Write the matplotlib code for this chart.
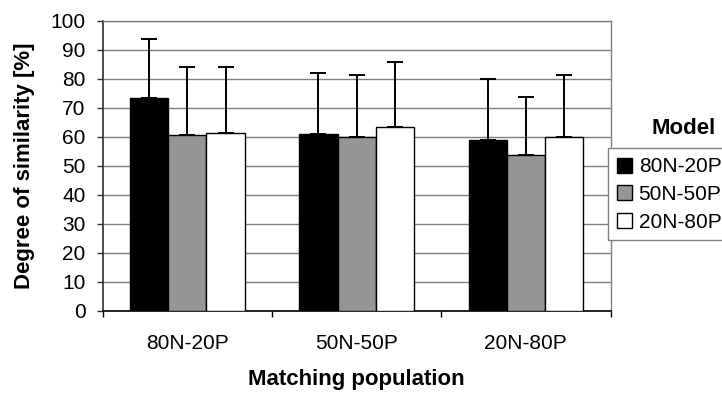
import matplotlib
matplotlib.use("Agg")
import matplotlib.pyplot as plt
from matplotlib.patches import Rectangle
import numpy as np

plt.rcParams['font.family'] = ['Liberation Sans', 'DejaVu Sans']

categories = ["80N-20P", "50N-50P", "20N-80P"]
models = ["80N-20P", "50N-50P", "20N-80P"]
means = {
    "80N-20P": [73.2, 60.8, 58.7],
    "50N-50P": [60.6, 60.0, 53.8],
    "20N-80P": [61.4, 63.4, 60.0],
}
upper = {
    "80N-20P": [93.7, 82.1, 80.0],
    "50N-50P": [84.0, 81.4, 73.8],
    "20N-80P": [84.0, 85.6, 81.4],
}
colors = ["#000000", "#969696", "#ffffff"]
yticks = list(range(0, 101, 10))

W, H = 722, 396
fig = plt.figure(figsize=(W / 100, H / 100), dpi=100)
ax = fig.add_axes([102.7 / W, 1 - 310.7 / H, (610.5 - 102.7) / W, (310.7 - 20.7) / H])

x = np.arange(len(categories))
bw = 0.2255
for i, m in enumerate(models):
    xs = x + (i - 1) * bw
    vals = np.array(means[m])
    errs = np.array(upper[m]) - vals
    ax.bar(xs, vals, width=bw, color=colors[i], edgecolor="black", linewidth=1.0,
           label=m, zorder=3)
    ax.errorbar(xs, vals, yerr=[np.zeros_like(errs), errs], fmt="none", ecolor="black",
                elinewidth=1.4, capsize=5.8, capthick=1.4, zorder=4)

ax.set_xlim(-0.5, len(categories) - 0.5)
ax.set_ylim(0, 100)
ax.set_yticks(yticks)
ax.set_yticklabels([str(t) for t in yticks])
ax.yaxis.grid(True, color="#808080", linewidth=1.0, zorder=0)
ax.set_axisbelow(True)

ax.set_xticks(np.arange(-0.5, len(categories)), minor=False)
ax.set_xticklabels([""] * (len(categories) + 1))
ax.set_xticks(x, minor=True)
ax.set_xticklabels(categories, minor=True)
ax.tick_params(axis="x", which="major", direction="out", length=4.3, width=1.0, color="black")
ax.tick_params(axis="x", which="minor", length=0, pad=17, labelsize=15)
ax.tick_params(axis="y", direction="out", length=4.3, width=1.0, color="#303030",
               pad=8, labelsize=15)

for s in ["top", "right"]:
    ax.spines[s].set_color("#808080")
    ax.spines[s].set_linewidth(1.0)
ax.spines["left"].set_color("#303030")
ax.spines["left"].set_linewidth(1.2)
ax.spines["bottom"].set_color("black")
ax.spines["bottom"].set_linewidth(1.2)

ax.set_ylabel("Degree of similarity [%]", fontsize=16, fontweight="bold", labelpad=11)
ax.set_xlabel("Matching population", fontsize=16, fontweight="bold", labelpad=11)

# legend frame extending beyond the right edge, as in the reference
fig.patches.append(Rectangle((608 / W, 1 - 240 / H), 140 / W, 92 / H,
                             transform=fig.transFigure, facecolor="white",
                             edgecolor="#808080", linewidth=1.0, zorder=5))
leg = fig.legend(loc="upper left", bbox_to_anchor=(608 / W, 1 - 148 / H),
                 borderaxespad=0, fontsize=15, frameon=False,
                 handlelength=0.72, handleheight=0.72, handletextpad=0.3,
                 labelspacing=0.42, borderpad=0.45)
leg.set_zorder(6)
fig.text(684 / W, 1 - 128 / H, "Model", ha="center", va="center",
         fontsize=16, fontweight="bold")

fig.savefig("out.png", dpi=100)
